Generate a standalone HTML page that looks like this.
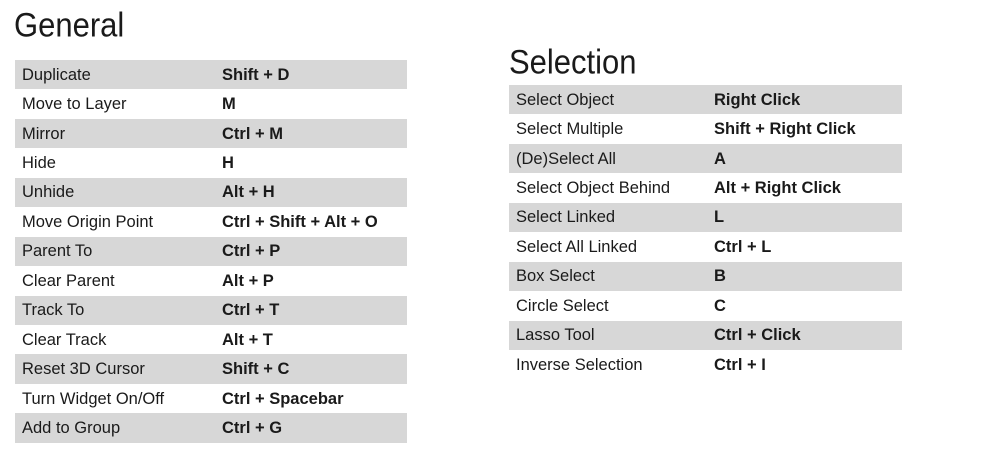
<!DOCTYPE html>
<html><head><style>
body{margin:0;width:1000px;height:466px;background:#fff;font-family:"Liberation Sans",sans-serif;color:#1a1a1a;position:relative;overflow:hidden}
h1{position:absolute;margin:0;font-weight:normal;font-size:31px;line-height:40px;transform:scaleY(1.12);transform-origin:left top}
.t{position:absolute;border-collapse:collapse}
.t td{height:29.45px;padding:0;font-size:16.5px;line-height:20px}
.t td:first-child{padding-left:7px}
.t td b{font-weight:bold}
.t tr:nth-child(odd){background:#d7d7d7}
</style></head><body>
<h1 style="left:14px;top:3px">General</h1>
<table class="t" style="left:15px;top:60px;width:392px">
<colgroup><col style="width:207px"><col></colgroup>
<tr><td>Duplicate</td><td><b>Shift + D</b></td></tr>
<tr><td>Move to Layer</td><td><b>M</b></td></tr>
<tr><td>Mirror</td><td><b>Ctrl + M</b></td></tr>
<tr><td>Hide</td><td><b>H</b></td></tr>
<tr><td>Unhide</td><td><b>Alt + H</b></td></tr>
<tr><td>Move Origin Point</td><td><b>Ctrl + Shift + Alt + O</b></td></tr>
<tr><td>Parent To</td><td><b>Ctrl + P</b></td></tr>
<tr><td>Clear Parent</td><td><b>Alt + P</b></td></tr>
<tr><td>Track To</td><td><b>Ctrl + T</b></td></tr>
<tr><td>Clear Track</td><td><b>Alt + T</b></td></tr>
<tr><td>Reset 3D Cursor</td><td><b>Shift + C</b></td></tr>
<tr><td>Turn Widget On/Off</td><td><b>Ctrl + Spacebar</b></td></tr>
<tr><td>Add to Group</td><td><b>Ctrl + G</b></td></tr>
</table>
<h1 style="left:509px;top:40px">Selection</h1>
<table class="t" style="left:509px;top:85px;width:393px">
<colgroup><col style="width:205px"><col></colgroup>
<tr><td>Select Object</td><td><b>Right Click</b></td></tr>
<tr><td>Select Multiple</td><td><b>Shift + Right Click</b></td></tr>
<tr><td>(De)Select All</td><td><b>A</b></td></tr>
<tr><td>Select Object Behind</td><td><b>Alt + Right Click</b></td></tr>
<tr><td>Select Linked</td><td><b>L</b></td></tr>
<tr><td>Select All Linked</td><td><b>Ctrl + L</b></td></tr>
<tr><td>Box Select</td><td><b>B</b></td></tr>
<tr><td>Circle Select</td><td><b>C</b></td></tr>
<tr><td>Lasso Tool</td><td><b>Ctrl + Click</b></td></tr>
<tr><td>Inverse Selection</td><td><b>Ctrl + I</b></td></tr>
</table>
</body></html>
